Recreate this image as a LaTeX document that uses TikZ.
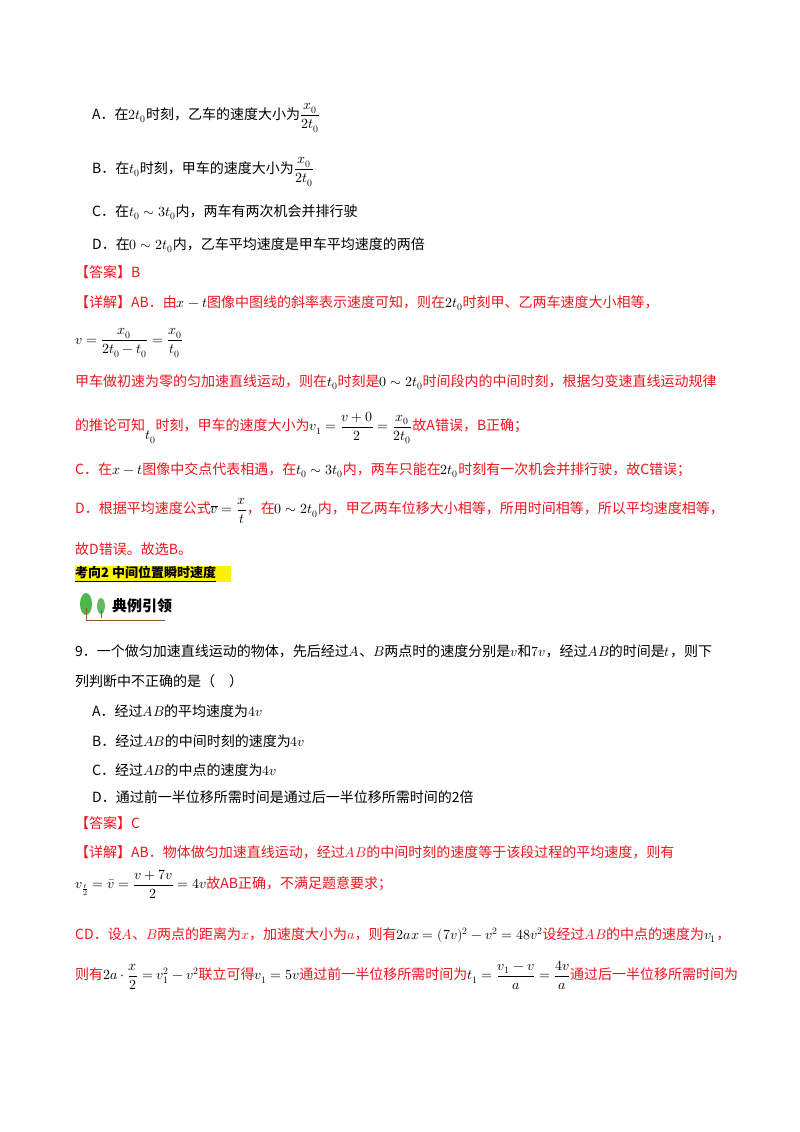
\documentclass[tikz,border=0pt]{standalone}
\usepackage{fontspec}
\setmainfont{Noto Sans CJK SC}
\usepackage{amsmath}
\usepackage{unicode-math}
\setmathfont{Latin Modern Math}
\definecolor{ans}{RGB}{240,20,30}
\begin{document}
\begin{tikzpicture}[x=1pt,y=-1pt,
  t/.style={anchor=west,inner sep=0pt,font=\fontsize{14}{16}\selectfont},
  r/.style={t,text=ans}]
\useasboundingbox (0,0) rectangle (800,1132);
\fill[white] (0,0) rectangle (800,1132);
\node[t] (a) at (92,118) {A．在$2t_0$时刻，乙车的速度大小为$\dfrac{x_0}{2t_0}$};
\node[t] (b) at (92,172) {B．在$t_0$时刻，甲车的速度大小为$\dfrac{x_0}{2t_0}$};
\node[t] (c) at (92,212) {C．在$t_0\sim3t_0$内，两车有两次机会并排行驶};
\node[t] (d) at (92,245) {D．在$0\sim2t_0$内，乙车平均速度是甲车平均速度的两倍};
\node[r] (ans1) at (75,272) {【答案】B};
\node[r] (x1) at (75,303) {【详解】AB．由\textcolor{black}{$x-t$}图像中图线的斜率表示速度可知，则在\textcolor{black}{$2t_0$}时刻甲、乙两车速度大小相等，};
\node[t] (x2) at (75,343) {$v=\dfrac{x_0}{2t_0-t_0}=\dfrac{x_0}{t_0}$};
\node[r] (x3) at (75,382) {甲车做初速为零的匀加速直线运动，则在\textcolor{black}{$t_0$}时刻是\textcolor{black}{$0\sim2t_0$}时间段内的中间时刻，根据匀变速直线运动规律};
\node[r] (x4) at (75,428) {的推论可知\raisebox{-1.2ex}{\textcolor{black}{$t_0$}}时刻，甲车的速度大小为\textcolor{black}{$v_1=\dfrac{v+0}{2}=\dfrac{x_0}{2t_0}$}故A错误，B正确；};
\node[r] (x5) at (75,470) {C．在\textcolor{black}{$x-t$}图像中交点代表相遇，在\textcolor{black}{$t_0\sim3t_0$}内，两车只能在\textcolor{black}{$2t_0$}时刻有一次机会并排行驶，故C错误；};
\node[r] (x6) at (75,511) {D．根据平均速度公式\textcolor{black}{$\overline{v}=\dfrac{x}{t}$}，在\textcolor{black}{$0\sim2t_0$}内，甲乙两车位移大小相等，所用时间相等，所以平均速度相等，};
\node[r] (x7) at (75,549) {故D错误。故选B。};
\fill[yellow] (75,566) rectangle (231,582);
\node[t,font=\fontsize{13}{14}\selectfont\bfseries] (h) at (75,574) {\underline{考向2\ 中间位置瞬时速度}};
% icon
\fill[green!60!black!70] (86,604) ellipse (6 and 11);
\fill[green!55!black!60] (101,606) ellipse (4 and 8);
\draw[brown!70!black,line width=1pt] (86,608) -- (86,620) -- (165,620);
\draw[brown!70!black,line width=0.8pt] (101,610) -- (101,618);
\node[t,font=\fontsize{15}{16}\selectfont\bfseries] (ic) at (112,606) {典例引领};
\node[t] (q) at (75,651) {9．一个做匀加速直线运动的物体，先后经过$A$、$B$两点时的速度分别是$v$和$7v$，经过$AB$的时间是$t$，则下};
\node[t] (q2) at (75,681) {列判断中不正确的是（\quad）};
\node[t] (qa) at (92,711) {A．经过$AB$的平均速度为$4v$};
\node[t] (qb) at (92,741) {B．经过$AB$的中间时刻的速度为$4v$};
\node[t] (qc) at (92,770) {C．经过$AB$的中点的速度为$4v$};
\node[t] (qd) at (92,797) {D．通过前一半位移所需时间是通过后一半位移所需时间的2倍};
\node[r] (ans2) at (75,823) {【答案】C};
\node[r] (y1) at (75,852) {【详解】AB．物体做匀加速直线运动，经过$AB$的中间时刻的速度等于该段过程的平均速度，则有};
\node[r] (y2) at (75,884) {\textcolor{black}{$v_{\frac{t}{2}}=\bar{v}=\dfrac{v+7v}{2}=4v$}故AB正确，不满足题意要求；};
\node[r] (y3) at (75,935) {CD．设$A$、$B$两点的距离为$x$，加速度大小为$a$，则有\textcolor{black}{$2ax=(7v)^2-v^2=48v^2$}设经过$AB$的中点的速度为\textcolor{black}{$v_1$}，};
\node[r] (y4) at (75,975) {则有\textcolor{black}{$2a\cdot\dfrac{x}{2}=v_1^2-v^2$}联立可得\textcolor{black}{$v_1=5v$}通过前一半位移所需时间为\textcolor{black}{$t_1=\dfrac{v_1-v}{a}=\dfrac{4v}{a}$}通过后一半位移所需时间为};
\end{tikzpicture}
\end{document}
